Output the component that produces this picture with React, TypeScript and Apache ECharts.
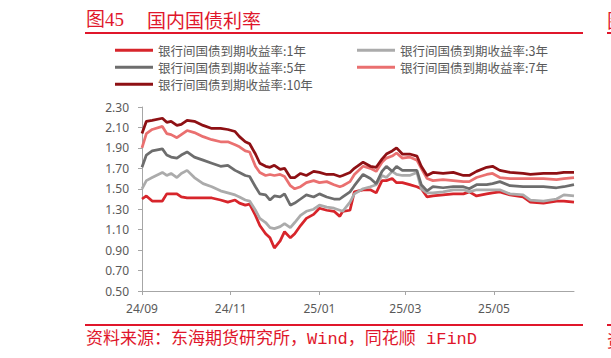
import React, { useEffect, useRef } from "react";
import * as echarts from "echarts";

const dates = [
  "2024-09-24", "2024-09-27", "2024-10-01", "2024-10-08", "2024-10-11",
  "2024-10-14", "2024-10-18", "2024-10-21", "2024-10-25", "2024-10-30",
  "2024-11-05", "2024-11-11", "2024-11-17", "2024-11-22", "2024-11-27",
  "2024-11-30", "2024-12-04", "2024-12-07", "2024-12-11", "2024-12-14",
  "2024-12-18", "2024-12-21", "2024-12-24", "2024-12-28", "2024-12-31",
  "2025-01-04", "2025-01-07", "2025-01-11", "2025-01-15", "2025-01-20",
  "2025-01-24", "2025-01-29", "2025-02-03", "2025-02-07",
  "2025-02-09", "2025-02-14", "2025-02-17", "2025-02-23", "2025-02-28",
  "2025-03-04", "2025-03-08", "2025-03-11", "2025-03-15", "2025-03-18",
  "2025-03-22", "2025-03-27", "2025-04-01", "2025-04-04", "2025-04-08",
  "2025-04-12", "2025-04-19", "2025-04-26", "2025-05-03", "2025-05-07",
  "2025-05-12", "2025-05-19", "2025-05-23", "2025-05-28", "2025-06-04",
  "2025-06-13", "2025-06-18", "2025-06-27", "2025-07-06", "2025-07-11",
  "2025-07-18",
];

const y1 = [
  1.40, 1.43, 1.38, 1.38, 1.45, 1.45, 1.45, 1.42, 1.41, 1.41,
  1.41, 1.41, 1.39, 1.37, 1.39, 1.36, 1.34, 1.35, 1.24, 1.14,
  1.06, 1.02, 0.92, 0.99, 1.08, 1.02, 1.06, 1.14, 1.21, 1.25,
  1.31, 1.29, 1.28, 1.23,
  1.28, 1.29, 1.47, 1.49, 1.49, 1.46, 1.58, 1.58, 1.60, 1.56,
  1.56, 1.54, 1.52, 1.50, 1.42, 1.43, 1.44, 1.45, 1.45, 1.47,
  1.43, 1.45, 1.46, 1.47, 1.44, 1.42, 1.37, 1.36, 1.38, 1.38, 1.37,
];
const y3 = [
  1.50, 1.58, 1.61, 1.66, 1.63, 1.65, 1.61, 1.65, 1.68, 1.61,
  1.55, 1.52, 1.48, 1.46, 1.44, 1.42, 1.39, 1.38, 1.29, 1.21,
  1.17, 1.12, 1.11, 1.13, 1.16, 1.12, 1.17, 1.24, 1.28, 1.30,
  1.34, 1.32, 1.31, 1.29,
  1.28, 1.37, 1.45, 1.50, 1.52, 1.54, 1.63, 1.61, 1.67, 1.64,
  1.63, 1.63, 1.66, 1.50, 1.46, 1.46, 1.47, 1.49, 1.49, 1.47,
  1.49, 1.49, 1.49, 1.49, 1.45, 1.44, 1.39, 1.38, 1.40, 1.44, 1.43,
];
const y5 = [
  1.71, 1.83, 1.87, 1.89, 1.83, 1.81, 1.80, 1.83, 1.86, 1.81,
  1.78, 1.75, 1.72, 1.73, 1.68, 1.66, 1.63, 1.62, 1.52, 1.45,
  1.44, 1.39, 1.43, 1.42, 1.45, 1.34, 1.36, 1.40, 1.44, 1.42,
  1.45, 1.42, 1.40, 1.40,
  1.42, 1.47, 1.53, 1.64, 1.60, 1.55, 1.67, 1.72, 1.67, 1.72,
  1.68, 1.68, 1.68, 1.54, 1.48, 1.52, 1.51, 1.52, 1.52, 1.50,
  1.54, 1.54, 1.55, 1.57, 1.53, 1.52, 1.52, 1.52, 1.51, 1.52, 1.54,
];
const y7 = [
  1.90, 2.04, 2.08, 2.11, 2.04, 2.03, 2.00, 2.03, 2.07, 2.05,
  2.01, 1.98, 1.96, 1.96, 1.93, 1.91, 1.87, 1.86, 1.72, 1.66,
  1.63, 1.64, 1.63, 1.64, 1.62, 1.53, 1.50, 1.52, 1.56, 1.58,
  1.56, 1.57, 1.54, 1.52,
  1.53, 1.57, 1.64, 1.72, 1.70, 1.67, 1.76, 1.80, 1.82, 1.85,
  1.80, 1.81, 1.78, 1.70, 1.60, 1.58, 1.59, 1.58, 1.57, 1.57,
  1.61, 1.64, 1.65, 1.61, 1.60, 1.60, 1.60, 1.60, 1.59, 1.60, 1.61,
];
const y10 = [
  2.04, 2.16, 2.17, 2.19, 2.15, 2.16, 2.12, 2.13, 2.17, 2.16,
  2.12, 2.09, 2.09, 2.08, 2.06, 2.01, 1.96, 1.94, 1.84, 1.75,
  1.72, 1.71, 1.73, 1.69, 1.70, 1.61, 1.61, 1.65, 1.63, 1.67,
  1.66, 1.64, 1.64, 1.62,
  1.63, 1.66, 1.70, 1.76, 1.72, 1.71, 1.79, 1.84, 1.87, 1.90,
  1.84, 1.84, 1.82, 1.72, 1.63, 1.66, 1.65, 1.66, 1.63, 1.63,
  1.67, 1.71, 1.72, 1.68, 1.66, 1.65, 1.64, 1.65, 1.65, 1.66, 1.66,
];

const seriesNames = [
  "银行间国债到期收益率:1年",
  "银行间国债到期收益率:3年",
  "银行间国债到期收益率:5年",
  "银行间国债到期收益率:7年",
  "银行间国债到期收益率:10年",
];
const seriesColors = ["#D7252B", "#ABABAB", "#6D6D6D", "#EA7070", "#8E1014"];
const seriesValues = [y1, y3, y5, y7, y10];

const yTicks = [0.5, 0.7, 0.9, 1.1, 1.3, 1.5, 1.7, 1.9, 2.1, 2.3];
const axisStart = "2024-09-24";
const axisEnd = "2025-07-18";
const tickMonths = ["09", "11", "01", "03", "05"];
const tickDay = "24";

const titleText = "图45";
const titleText2 = "国内国债利率";
const sourceText = "资料来源：东海期货研究所，Wind，同花顺 iFinD";

function buildDays(start: string, end: string): string[] {
  const out: string[] = [];
  const s = new Date(start + "T00:00:00Z").getTime();
  const e = new Date(end + "T00:00:00Z").getTime();
  for (let t = s; t <= e; t += 86400000) {
    out.push(new Date(t).toISOString().slice(0, 10));
  }
  return out;
}

const RED = "#E0162B";

export default function App() {
  const ref = useRef<HTMLDivElement>(null);
  useEffect(() => {
    if (!ref.current) return;
    const chart = echarts.init(ref.current, undefined, { renderer: "svg" });
    const days = buildDays(axisStart, axisEnd);
    const isTick = (_i: number, v: string) =>
      v.slice(8, 10) === tickDay && tickMonths.includes(v.slice(5, 7));

    const legendPos = [
      { left: 115, top: 44 },
      { left: 357, top: 44 },
      { left: 115, top: 61 },
      { left: 357, top: 61 },
      { left: 115, top: 78 },
    ];

    chart.setOption({
      animation: false,
      backgroundColor: "#ffffff",
      grid: { left: 142, right: 37, top: 107, bottom: 67, containLabel: false },
      legend: seriesNames.map((n, i) => ({
        data: [n],
        left: legendPos[i].left,
        top: legendPos[i].top,
        padding: 0,
        icon: "rect",
        itemWidth: 38,
        itemHeight: 3,
        textStyle: {
          fontSize: 12.5,
          lineHeight: 12,
          color: "#595959",
          fontFamily: "'Noto Sans CJK SC', sans-serif",
        },
        selectedMode: false,
      })),
      xAxis: {
        type: "category",
        data: days,
        boundaryGap: false,
        axisLine: { lineStyle: { color: "#A6A6A6", width: 1 } },
        axisTick: {
          interval: isTick,
          length: 4,
          lineStyle: { color: "#A6A6A6" },
        },
        axisLabel: {
          interval: isTick,
          formatter: (v: string) => `${v.slice(2, 4)}/${v.slice(5, 7)}`,
          color: "#595959",
          fontSize: 12,
          margin: 11,
          fontFamily: "'Noto Sans', sans-serif",
        },
        splitLine: { show: false },
      },
      yAxis: {
        type: "value",
        min: 0.5,
        max: 2.3,
        axisLine: { show: true, lineStyle: { color: "#A6A6A6", width: 1 } },
        axisTick: {
          show: true,
          length: 4,
          customValues: yTicks,
          lineStyle: { color: "#A6A6A6" },
        },
        axisLabel: {
          customValues: yTicks,
          formatter: (v: number) => v.toFixed(2),
          color: "#595959",
          fontSize: 12,
          margin: 13,
          fontFamily: "'Noto Sans', sans-serif",
        },
        splitLine: { show: false },
      },
      series: seriesNames.map((n, i) => ({
        name: n,
        type: "line",
        data: dates.map((d, j) => [d, seriesValues[i][j]]),
        showSymbol: false,
        symbol: "none",
        color: seriesColors[i],
        lineStyle: { color: seriesColors[i], width: 2.75 },
        itemStyle: { color: seriesColors[i] },
      })),
      graphic: [
        {
          type: "text",
          left: 86,
          top: 10,
          style: {
            text: titleText,
            fill: RED,
            fontSize: 19,
            fontFamily: "'Liberation Serif', 'Noto Sans CJK SC', serif",
          },
        },
        {
          type: "text",
          left: 147,
          top: 10,
          style: {
            text: titleText2,
            fill: RED,
            fontSize: 19,
            fontFamily: "'Noto Sans CJK SC', sans-serif",
          },
        },
        {
          type: "line",
          shape: { x1: 85, y1: 33, x2: 583, y2: 33 },
          style: { stroke: RED, lineWidth: 2 },
        },
        {
          type: "line",
          shape: { x1: 607, y1: 33, x2: 611, y2: 33 },
          style: { stroke: RED, lineWidth: 2 },
        },
        {
          type: "text",
          x: 607,
          y: 10,
          style: {
            text: "图",
            fill: RED,
            fontSize: 19,
            fontFamily: "'Noto Sans CJK SC', sans-serif",
          },
        },
        {
          type: "line",
          shape: { x1: 85, y1: 325, x2: 583, y2: 325 },
          style: { stroke: RED, lineWidth: 2 },
        },
        {
          type: "line",
          shape: { x1: 607, y1: 325, x2: 611, y2: 325 },
          style: { stroke: RED, lineWidth: 2 },
        },
        {
          type: "text",
          left: 86,
          top: 331,
          style: {
            text: sourceText,
            fill: RED,
            fontSize: 17,
            fontFamily: "'Liberation Mono', 'Noto Sans CJK SC', monospace",
          },
        },
        {
          type: "text",
          x: 607,
          y: 331,
          style: {
            text: "资",
            fill: RED,
            fontSize: 17,
            fontFamily: "'Noto Sans CJK SC', sans-serif",
          },
        },
      ],
    });
    return () => chart.dispose();
  }, []);
  return (
    <div
      ref={ref}
      style={{ position: "fixed", left: 0, top: 0, width: 611, height: 358 }}
    />
  );
}
